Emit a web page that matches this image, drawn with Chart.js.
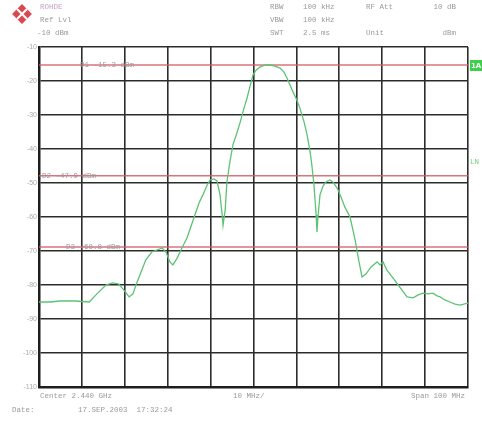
<!DOCTYPE html>
<html>
<head>
<meta charset="utf-8">
<script src="https://cdn.jsdelivr.net/npm/chart.js@4.4.1/dist/chart.umd.min.js"></script>
<style>
  html, body { margin: 0; padding: 0; background: #fff; }
  #wrap { position: relative; width: 482px; height: 425px; }
</style>
</head>
<body>
<div id="wrap"><canvas id="spec" width="482" height="425"></canvas></div>
<script>
// frequency offset from center (MHz) and level (dBm)
const freqs = [-50, -47.4, -45.1, -41.6, -38.3, -36.5, -34.4, -32.8, -31.4, -30.2, -29.0, -28.1, -27.4, -26.2, -25.1,
  -23.7, -22.5, -21.3, -20.4, -19.5, -18.8, -17.8, -16.7, -15.5, -13.9, -12.7, -11.8, -10.8, -10.1, -9.2, -8.5, -7.8,
  -7.3, -7.1, -6.6, -6.2, -5.5, -4.8, -3.8, -3.1, -2.2, -1.5, -0.8, -0.1, 0.6, 1.5, 2.7, 3.8, 5.0, 6.2, 7.1, 7.8, 8.5,
  9.2, 10.1, 10.8, 11.8, 12.5, 13.2, 13.6, 14.1, 14.6, 14.8, 15.0, 15.5, 16.2, 16.9, 17.8, 18.5, 19.5, 20.4, 21.3, 22.5,
  23.7, 24.6, 25.3, 26.2, 27.4, 28.8, 29.5, 30.2, 31.1, 32.5, 34.1, 35.8, 37.2, 38.4, 39.5, 40.7, 41.8, 42.8, 43.5,
  44.6, 45.8, 47.0, 48.1, 50];
const levels = [-85.0, -85.0, -84.7, -84.7, -85.0, -82.6, -80.0, -79.4, -79.7, -81.5, -83.5, -82.6, -80.0, -76.2, -72.6,
  -70.3, -69.7, -69.1, -70.3, -73.2, -74.1, -72.1, -69.1, -66.2, -60.3, -55.9, -53.5, -50.6, -49.1, -48.8, -49.4, -53.5,
  -59.4, -62.4, -57.9, -49.7, -43.8, -38.8, -35.0, -32.1, -27.9, -25.0, -21.5, -18.2, -16.8, -15.9, -15.3, -15.3, -15.6,
  -16.2, -17.4, -19.1, -21.2, -23.2, -25.6, -27.9, -32.1, -35.9, -40.9, -44.7, -50.6, -59.4, -64.4, -60.3, -53.5, -50.9,
  -49.7, -49.1, -49.7, -51.5, -54.1, -57.1, -60.0, -66.8, -73.2, -77.6, -76.8, -74.7, -73.2, -74.1, -73.2, -75.6, -77.9,
  -80.6, -83.5, -83.8, -82.9, -82.4, -82.6, -82.4, -83.2, -83.5, -84.4, -85.0, -85.6, -85.9, -85.3];

const displayLines = ["D1", "D2", "D3"];
const displayLevels = [-15.3, -47.9, -68.8];
const yTicks = [-10, -20, -30, -40, -50, -60, -70, -80, -90, -100, -110];

const headerLeft = ["ROHDE", "Ref Lvl", "-10 dBm"];
const headerRight = [
  ["RBW", "100 kHz", "RF Att", "10 dB"],
  ["VBW", "100 kHz", "", ""],
  ["SWT", "2.5 ms", "Unit", "dBm"]
];
const footer = ["Center 2.440 GHz", "10 MHz/", "Span 100 MHz"];
const dateText = ["Date:", "17.SEP.2003  17:32:24"];

const traceData = freqs.map((f, i) => ({ x: f, y: levels[i] }));
const lineSets = displayLevels.map((v, i) => ({
  label: displayLines[i],
  data: [{ x: -50, y: v }, { x: 50, y: v }],
  borderColor: "rgba(214,90,100,0.85)",
  borderWidth: 1.5,
  pointRadius: 0,
  order: 2
}));

const FONT = "7.5px 'Liberation Mono', 'DejaVu Sans Mono', monospace";
const GRAY = "#9a9a9a";

const decor = {
  id: "decor",
  afterDraw(chart) {
    const ctx = chart.ctx;
    const area = chart.chartArea;
    const ys = chart.scales.y;
    ctx.save();

    // R&S logo
    ctx.save();
    ctx.translate(22, 14);
    ctx.rotate(Math.PI / 4);
    ctx.fillStyle = "#d8484f";
    ctx.fillRect(-7, -7, 14, 14);
    ctx.fillStyle = "#fff";
    ctx.fillRect(-1, -7, 2, 14);
    ctx.fillRect(-7, -1, 14, 2);
    ctx.restore();

    ctx.font = FONT;
    ctx.textBaseline = "middle";
    ctx.textAlign = "left";
    ctx.fillStyle = "#c9a0c8";
    ctx.fillText(headerLeft[0], 40, 7);
    ctx.fillStyle = GRAY;
    ctx.fillText(headerLeft[1], 40, 20);
    ctx.fillText(headerLeft[2], 37, 33);

    const cols = [270, 303, 366, 428];
    headerRight.forEach((row, r) => {
      row.forEach((t, c) => {
        if (!t) return;
        let x = cols[c];
        if (c === 3) { ctx.textAlign = "right"; x = 456; } else ctx.textAlign = "left";
        ctx.fillText(t, x, 7 + r * 13);
      });
    });

    // bottom annotation
    ctx.textAlign = "left";
    ctx.fillText(footer[0], 40, 396);
    ctx.fillText(footer[1], 233, 396);
    ctx.textAlign = "right";
    ctx.fillText(footer[2], 465, 396);
    ctx.textAlign = "left";
    ctx.fillText(dateText[0], 12, 410);
    ctx.fillText(dateText[1], 78, 410);

    // display line labels
    const lx = [80, 42, 66];
    displayLevels.forEach((v, i) => {
      const y = ys.getPixelForValue(v);
      ctx.fillStyle = GRAY;
      ctx.fillText(displayLines[i] + " " + v.toFixed(1) + " dBm", lx[i], y);
    });

    // right-side markers
    ctx.fillStyle = "#3fd04a";
    ctx.fillRect(area.right + 2, 60, 12, 11);
    ctx.fillStyle = "#fff";
    ctx.font = "bold 7px 'DejaVu Sans', sans-serif";
    ctx.fillText("1A", area.right + 3, 66);
    ctx.fillStyle = "#6fcf7a";
    ctx.font = FONT;
    ctx.fillText("LN", area.right + 2, 162);
    ctx.restore();
  }
};

new Chart(document.getElementById("spec"), {
  type: "line",
  data: {
    datasets: [
      {
        label: "Trace",
        data: traceData,
        borderColor: "#5cc374",
        borderWidth: 1.3,
        pointRadius: 0,
        tension: 0,
        order: 1
      },
      ...lineSets
    ]
  },
  options: {
    responsive: false,
    animation: false,
    events: [],
    layout: { padding: { left: 0, right: 14, top: 47, bottom: 38 } },
    plugins: { legend: { display: false }, tooltip: { enabled: false } },
    scales: {
      x: {
        type: "linear",
        min: -50,
        max: 50,
        ticks: { display: false, stepSize: 10 },
        grid: { color: "#2c2c2c", lineWidth: 1.6, drawTicks: false },
        border: { color: "#1e1e1e", width: 2.5 },
        afterFit(scale) { scale.height = 0; }
      },
      y: {
        min: -110,
        max: -10,
        afterBuildTicks(scale) { scale.ticks = yTicks.map(v => ({ value: v })); },
        ticks: {
          color: "#aaa",
          font: { family: "'Liberation Sans', sans-serif", size: 7 },
          padding: 2
        },
        grid: { color: "#2c2c2c", lineWidth: 1.6, drawTicks: false },
        border: { color: "#1e1e1e", width: 2.5 },
        afterFit(scale) { scale.width = 39; }
      }
    }
  },
  plugins: [decor]
});
</script>
</body>
</html>
